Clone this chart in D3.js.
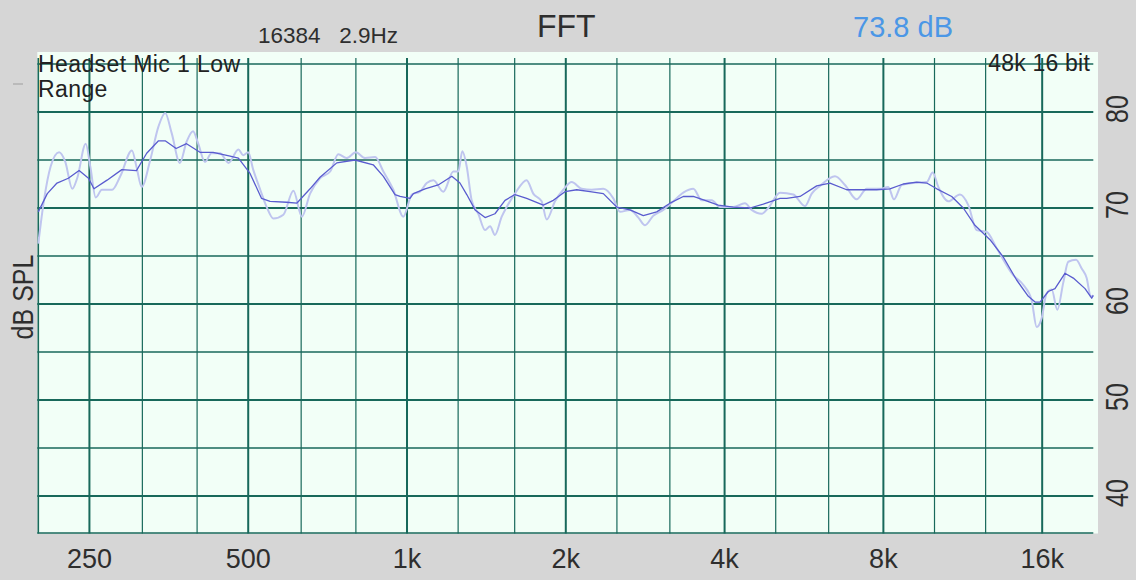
<!DOCTYPE html>
<html><head><meta charset="utf-8">
<script src="https://cdn.jsdelivr.net/npm/d3@7/dist/d3.min.js"></script>
<style>
html,body{margin:0;padding:0;background:#d6d6d6;}
svg{display:block;font-family:"Liberation Sans",Arial,Helvetica,sans-serif;}
</style></head>
<body>
<svg id="chart" width="1136" height="580"></svg>
<script>
// ---- data ----
const octaveTicks = [250, 500, 1000, 2000, 4000, 8000, 16000];
const octaveLabels = ["250", "500", "1k", "2k", "4k", "8k", "16k"];
const thirdOctaveGrid = [200, 315, 400, 630, 800, 1250, 1600, 2500, 3150, 5000, 6300, 10000, 12500];
const dbGrid = [85, 80, 75, 70, 65, 60, 55, 50, 45, 40];
const dbLabels = [80, 70, 60, 50, 40];

const freqLight = [200,205,211,219,225,232,237,246,251,257,264,276,286,301,307,314,326,338,348,358,371,382,393,402,414,426,442,459,479,489,500,511,527,542,558,583,609,632,655,684,715,741,768,800,833,870,902,942,984,1021,1058,1090,1122,1172,1224,1251,1273,1298,1326,1365,1406,1437,1468,1512,1545,1602,1686,1735,1800,1840,1908,1978,2052,2144,2239,2356,2461,2534,2647,2745,2826,2930,3061,3198,3340,3489,3620,3781,3920,4155,4372,4502,4703,4840,5095,5399,5681,5851,6067,6476,6765,7120,7438,7882,8173,8378,8665,9115,9665,9922,10167,10621,11175,11589,12020,12560,13120,14100,14730,15280,15620,15960,16310,16680,17090,17540,17930,18550,19010,19430,19770,20000];
const dbLight = [66.3,70.8,74.3,75.8,74.8,72.0,73.1,76.7,74.3,71.1,71.9,71.9,73.3,76.0,74.3,72.2,75.0,78.5,79.9,77.8,74.7,76.9,78.0,76.7,74.8,75.7,75.7,74.7,76.1,75.5,75.8,74.0,71.9,70.1,68.9,69.3,71.8,69.1,71.5,73.1,73.8,75.6,75.2,75.8,75.2,75.3,73.8,71.9,69.1,71.4,71.7,72.6,72.9,71.7,73.8,73.8,75.9,74.3,70.8,69.4,67.7,68.1,67.2,69.1,70.1,71.5,72.9,71.5,70.7,68.8,70.7,71.9,72.7,72.0,71.9,72.0,71.0,69.6,69.8,69.0,68.2,69.2,69.8,70.7,71.6,72.0,70.8,70.8,70.1,70.1,70.5,69.8,69.4,70.0,71.6,71.4,70.2,71.5,72.3,73.3,72.4,70.9,72.0,72.0,72.2,70.9,72.4,72.6,72.7,73.7,72.2,70.7,71.4,70.3,67.7,67.5,65.8,63.0,62.0,60.4,57.6,58.5,61.1,61.5,59.4,62.2,64.4,64.6,63.7,62.7,60.8,60.9];

const freqDark = [200,208,217,228,239,249,255,270,288,307,321,338,348,365,382,405,429,462,479,504,530,550,591,618,655,684,736,797,863,902,949,970,1013,1028,1082,1146,1216,1260,1298,1346,1406,1468,1534,1602,1686,1813,1894,1993,2098,2223,2356,2498,2647,2805,2974,3152,3340,3489,3672,3891,4155,4469,4736,5095,5245,5560,5979,6336,6816,7277,7769,8233,8727,9252,9665,10100,10780,11340,11930,12740,13500,14310,15060,15510,15850,16430,16920,17670,18330,19290,19860,20000];
const dbDark = [69.6,71.5,72.6,73.1,73.9,73.1,72.0,72.9,74.0,73.9,75.7,77.0,77.0,76.2,76.7,75.8,75.8,75.4,75.2,73.6,71.0,70.7,70.6,70.5,72.0,73.2,74.7,75.0,74.5,73.3,71.4,71.2,71.0,71.5,72.0,72.4,73.3,72.6,71.4,69.8,69.0,69.4,70.8,71.4,71.0,70.3,70.8,71.7,71.9,71.7,71.5,70.1,69.8,69.2,69.6,70.5,71.2,71.2,70.8,70.3,70.1,70.0,70.4,71.0,71.0,71.2,72.3,72.6,71.9,71.9,71.9,72.0,72.5,72.7,72.6,72.0,71.2,70.0,68.2,66.7,64.9,62.5,60.8,60.2,60.2,61.3,61.6,63.2,62.7,61.6,60.6,60.9];

// ---- layout ----
const svg = d3.select("#chart");
const x = d3.scaleLog().domain([200, 20000]).range([38.3, 1093.3]);
const y = d3.scaleLinear().domain([40, 85]).range([496, 64]);
const plotTop = 52, plotBottom = 533.5, plotLeft = 37.3, plotRight = 1098;
const gridColor = "#18695b";
const textColor = "#2e2e2e";

svg.append("rect").attr("width", 1136).attr("height", 580).attr("fill", "#d6d6d6");
svg.append("rect").attr("x", plotLeft).attr("y", plotTop)
  .attr("width", plotRight - plotLeft).attr("height", plotBottom - plotTop)
  .attr("fill", "#f2fff7");

const grid = svg.append("g");
grid.selectAll("line.h").data(dbGrid).join("line")
  .attr("x1", plotLeft).attr("x2", x(20000))
  .attr("y1", d => y(d)).attr("y2", d => y(d))
  .attr("stroke", gridColor)
  .attr("stroke-width", d => d % 10 === 0 ? 2 : 1.3);
grid.append("line").attr("x1", plotLeft).attr("x2", x(20000))
  .attr("y1", plotBottom - 0.5).attr("y2", plotBottom - 0.5)
  .attr("stroke", gridColor).attr("stroke-width", 1.6);
grid.selectAll("line.v3").data(thirdOctaveGrid).join("line")
  .attr("x1", d => x(d)).attr("x2", d => x(d))
  .attr("y1", 58).attr("y2", plotBottom)
  .attr("stroke", gridColor).attr("stroke-width", d => d === 200 ? 1.6 : 1.2);
grid.selectAll("line.v").data(octaveTicks).join("line")
  .attr("x1", d => x(d)).attr("x2", d => x(d))
  .attr("y1", 58).attr("y2", plotBottom)
  .attr("stroke", gridColor).attr("stroke-width", 2);

svg.append("clipPath").attr("id", "clip").append("rect")
  .attr("x", plotLeft).attr("y", plotTop).attr("width", x(20000) - plotLeft + 1).attr("height", plotBottom - plotTop);

const lightData = d3.range(Math.min(freqLight.length, dbLight.length)).map(i => [freqLight[i], dbLight[i]]);
const darkData = d3.range(Math.min(freqDark.length, dbDark.length)).map(i => [freqDark[i], dbDark[i]]);

const lineL = d3.line().x(d => x(d[0])).y(d => y(d[1])).curve(d3.curveMonotoneX);
const lineD = d3.line().x(d => x(d[0])).y(d => y(d[1])).curve(d3.curveLinear);

const curves = svg.append("g").attr("clip-path", "url(#clip)");
curves.append("path").datum(lightData).attr("d", lineL)
  .attr("fill", "none").attr("stroke", "#bfc5ef").attr("stroke-width", 2).attr("stroke-linejoin", "round");
curves.append("path").datum(darkData).attr("d", lineD)
  .attr("fill", "none").attr("stroke", "#5a5ccf").attr("stroke-width", 1.3).attr("stroke-linejoin", "round");

svg.append("g").selectAll("text").data(octaveTicks).join("text")
  .attr("x", d => x(d)).attr("y", 568)
  .attr("text-anchor", "middle").attr("font-size", 27).attr("fill", textColor)
  .text((d, i) => octaveLabels[i]);

svg.append("g").selectAll("text").data(dbLabels).join("text")
  .attr("transform", d => `translate(1128,${y(d) - 3}) rotate(-90) scale(1,1.25)`)
  .attr("text-anchor", "middle").attr("font-size", 25).attr("fill", textColor)
  .text(d => d);

svg.append("text")
  .attr("transform", "translate(33,297) rotate(-90) scale(1,1.2)")
  .attr("text-anchor", "middle").attr("font-size", 25).attr("fill", textColor)
  .text("dB SPL");

svg.append("text").attr("x", 258).attr("y", 43).attr("font-size", 22.5).attr("fill", textColor).text("16384");
svg.append("text").attr("x", 398).attr("y", 43).attr("text-anchor", "end").attr("font-size", 22.5).attr("fill", textColor).text("2.9Hz");
svg.append("text").attr("x", 537).attr("y", 37).attr("font-size", 32).attr("fill", textColor).text("FFT");
svg.append("text").attr("x", 853).attr("y", 37).attr("font-size", 29).attr("fill", "#4b97e6").text("73.8 dB");

svg.append("text").attr("x", 38).attr("y", 72).attr("font-size", 23).attr("letter-spacing", 0.4).attr("fill", "#222").text("Headset Mic 1 Low");
svg.append("text").attr("x", 38).attr("y", 97).attr("font-size", 23).attr("letter-spacing", 0.4).attr("fill", "#222").text("Range");
svg.append("text").attr("x", 1090).attr("y", 71).attr("text-anchor", "end").attr("font-size", 23).attr("letter-spacing", 0.2).attr("fill", "#222").text("48k 16 bit");

svg.append("line").attr("x1", 13).attr("x2", 23).attr("y1", 84).attr("y2", 84)
  .attr("stroke", "#b0b0b0").attr("stroke-width", 1.5);
</script>
</body></html>
